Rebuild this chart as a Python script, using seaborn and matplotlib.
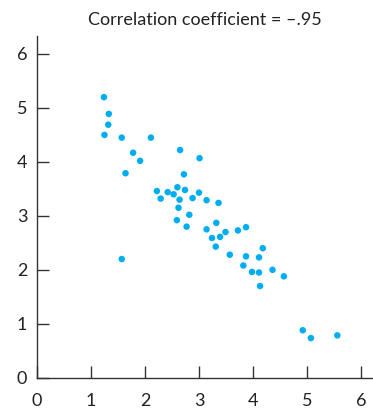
import numpy as np
import pandas as pd
import seaborn as sns
import matplotlib.pyplot as plt

# points
x_vals = [1.24, 1.33, 1.32, 1.25, 1.57, 2.11, 1.78, 1.91, 2.65, 3.01,
          1.64, 2.72, 2.22, 2.42, 2.53, 2.60, 2.74, 3.00, 2.29, 2.64,
          2.88, 3.14, 3.36, 2.62, 2.82, 2.59, 2.77, 3.14, 3.32, 3.24,
          3.39, 3.49, 3.72, 3.87, 3.31, 3.57, 3.87, 4.11, 4.18, 1.57,
          3.82, 3.98, 4.11, 4.36, 4.57, 4.13, 4.92, 5.07, 5.56]
y_vals = [5.20, 4.89, 4.69, 4.50, 4.45, 4.45, 4.17, 4.02, 4.22, 4.07,
          3.79, 3.77, 3.46, 3.44, 3.40, 3.53, 3.48, 3.43, 3.32, 3.30,
          3.33, 3.29, 3.24, 3.15, 3.02, 2.92, 2.80, 2.75, 2.87, 2.59,
          2.61, 2.70, 2.73, 2.79, 2.43, 2.28, 2.25, 2.23, 2.40, 2.20,
          2.08, 1.96, 1.95, 2.00, 1.88, 1.70, 0.88, 0.735, 0.785]
ticks = [0, 1, 2, 3, 4, 5, 6]
title = "Correlation coefficient = \u2013.95"

df = pd.DataFrame({"x": x_vals, "y": y_vals})

sns.set_style("ticks")
plt.rcParams['font.family'] = ['Lato', 'DejaVu Sans']

fig = plt.figure(figsize=(3.73, 4.16), dpi=100)
ax = fig.add_axes([0.099, 0.092, 0.901, 0.821])

sns.scatterplot(data=df, x="x", y="y", ax=ax, color="#00aeef",
                s=22, edgecolor="none", linewidth=0)

ax.set_xlim(0, 6.22)
ax.set_ylim(0, 6.33)
ax.set_xticks(ticks)
ax.set_yticks(ticks)
ax.set_xlabel("")
ax.set_ylabel("")
sns.despine(ax=ax)
for side in ["left", "bottom"]:
    ax.spines[side].set_linewidth(1.0)
    ax.spines[side].set_color("#333333")
ax.tick_params(axis="both", direction="in", length=8.5, width=1.0,
               color="#333333", labelsize=13, labelcolor="#222222")
ax.tick_params(axis="x", pad=11)
ax.tick_params(axis="y", pad=7)
ax.set_title(title, fontsize=13, color="#222222", pad=8)

fig.savefig("out.png", dpi=100)
